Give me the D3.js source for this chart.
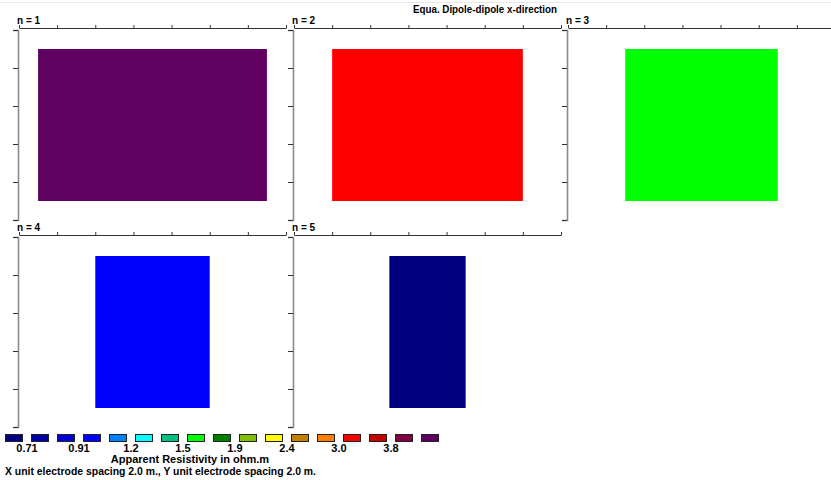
<!DOCTYPE html>
<html>
<head>
<meta charset="utf-8">
<script src="https://cdn.jsdelivr.net/npm/d3@7"></script>
<style>
  body { margin: 0; background: #fff; }
  svg { display: block; }
  text { font-family: "Liberation Sans", Arial, sans-serif; font-weight: bold; fill: #000; }
</style>
</head>
<body>
<svg id="chart" width="831" height="480"></svg>
<script>
// Dipole-dipole pseudosection levels and their apparent resistivity (ohm.m)
const levels = [1, 2, 3, 4, 5];
const levelValues = [4.6, 3.2, 1.6, 0.97, 0.68];
// first and last datum point along the line for each level (m)
const dataStart = [2, 3, 4, 5, 6];
const dataEnd = [12, 11, 10, 9, 8];
// electrode positions (m) and pseudo-depth ticks
const electrodeX = [0, 2, 4, 6, 8, 10, 12, 14];
const depthTicks = [0, 1, 2, 3, 4, 5];
const depthTop = 0.5, depthBottom = 4.5;

// contour intervals of the colour scale
const contourThresholds = [0.71, 0.80, 0.91, 1.03, 1.2, 1.33, 1.5, 1.68, 1.9, 2.13, 2.4, 2.7, 3.0, 3.4, 3.8, 4.3];
const contourColors = ["#000080", "#0000a8", "#0000d0", "#0000ff", "#0080ff", "#00ffff", "#00c080", "#00ff00",
                       "#008000", "#80c000", "#ffff00", "#c08000", "#ff8000", "#ff0000", "#c80000", "#800040", "#600060"];
const legendLabels = ["0.71", "0.91", "1.2", "1.5", "1.9", "2.4", "3.0", "3.8"];

const svg = d3.select("#chart");
const color = d3.scaleThreshold().domain(contourThresholds).range(contourColors);

// thin rule along the top of the window
svg.append("line").attr("x1", 0).attr("x2", 831).attr("y1", 2.5).attr("y2", 2.5)
  .attr("stroke", "#e8e8e8");

svg.append("text").attr("x", 485).attr("y", 13).attr("text-anchor", "middle")
  .style("font-size", "11px").attr("textLength", 144).attr("lengthAdjust", "spacingAndGlyphs")
  .text("Equa. Dipole-dipole x-direction");

const panelW = 267, panelH = 190;
const x = d3.scaleLinear().domain([0, 14]).range([0, panelW]);
const y = d3.scaleLinear().domain([0, 5]).range([0, panelH]);

levels.forEach((n, i) => {
  const col = i % 3, row = Math.floor(i / 3);
  const ox = Math.round(19 + col * 274.5);
  const oy = 30 + row * 207;
  const g = svg.append("g").attr("transform", `translate(${ox},${oy})`);

  g.append("rect")
    .attr("x", x(dataStart[i] - 1))
    .attr("y", y(depthTop))
    .attr("width", x(dataEnd[i] + 1) - x(dataStart[i] - 1))
    .attr("height", y(depthBottom) - y(depthTop))
    .attr("fill", color(levelValues[i]));

  const top = g.append("g").attr("transform", "translate(0,-2)")
    .call(d3.axisTop(x).tickValues(electrodeX).tickSize(3).tickSizeOuter(0).tickFormat(""));
  top.select(".domain").attr("stroke", "#333");
  top.selectAll(".tick line").attr("stroke", "#333");

  const left = g.append("g").attr("transform", "translate(-1,0)")
    .call(d3.axisLeft(y).tickValues(depthTicks).tickSize(5).tickSizeOuter(5).tickFormat(""));
  left.select(".domain").attr("stroke", "#8a8a8a").attr("stroke-width", 1.6);
  left.selectAll(".tick line").attr("stroke", "#333");

  g.append("text").attr("x", -2).attr("y", -6).style("font-size", "10px")
    .text(`n = ${n}`);
});

// colour legend
const legend = svg.append("g").attr("transform", "translate(5,434)");
legend.selectAll("rect").data(contourColors).join("rect")
  .attr("x", (d, i) => i * 26 + 0.5).attr("y", 0.5)
  .attr("width", 17).attr("height", 7)
  .attr("fill", d => d).attr("stroke", "#222");
legend.selectAll("text").data(legendLabels).join("text")
  .attr("x", (d, i) => (2 * i + 1) * 26 - 4).attr("y", 18)
  .attr("text-anchor", "middle").style("font-size", "11px")
  .text(d => d);

svg.append("text").attr("x", 190).attr("y", 463).attr("text-anchor", "middle")
  .style("font-size", "11px").text("Apparent Resistivity in ohm.m");
svg.append("text").attr("x", 5).attr("y", 475)
  .style("font-size", "11px").attr("textLength", 311).attr("lengthAdjust", "spacingAndGlyphs")
  .text("X unit electrode spacing 2.0 m., Y unit electrode spacing 2.0 m.");
</script>
</body>
</html>
